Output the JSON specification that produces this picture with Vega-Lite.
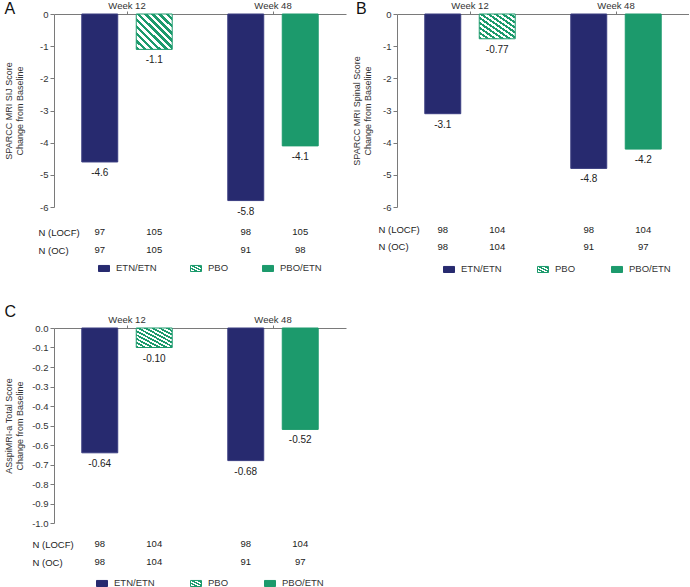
{
  "$schema": "https://vega.github.io/schema/vega-lite/v6.json",
  "padding": {"left": 4, "top": 0, "right": 0, "bottom": 0},
  "background": "white",
  "datasets": {
    "barsA": [
      {"week": "Week 12", "slot": "1", "group": "ETN/ETN", "value": -4.6, "label": "-4.6"},
      {"week": "Week 12", "slot": "2", "group": "PBO", "value": -1.1, "label": "-1.1"},
      {"week": "Week 48", "slot": "1", "group": "ETN/ETN", "value": -5.8, "label": "-5.8"},
      {"week": "Week 48", "slot": "2", "group": "PBO/ETN", "value": -4.1, "label": "-4.1"}
    ],
    "barsB": [
      {"week": "Week 12", "slot": "1", "group": "ETN/ETN", "value": -3.1, "label": "-3.1"},
      {"week": "Week 12", "slot": "2", "group": "PBO", "value": -0.77, "label": "-0.77"},
      {"week": "Week 48", "slot": "1", "group": "ETN/ETN", "value": -4.8, "label": "-4.8"},
      {"week": "Week 48", "slot": "2", "group": "PBO/ETN", "value": -4.2, "label": "-4.2"}
    ],
    "barsC": [
      {"week": "Week 12", "slot": "1", "group": "ETN/ETN", "value": -0.64, "label": "-0.64"},
      {"week": "Week 12", "slot": "2", "group": "PBO", "value": -0.10, "label": "-0.10"},
      {"week": "Week 48", "slot": "1", "group": "ETN/ETN", "value": -0.68, "label": "-0.68"},
      {"week": "Week 48", "slot": "2", "group": "PBO/ETN", "value": -0.52, "label": "-0.52"}
    ],
    "nA": [
      {"week": "Week 12", "slot": "1", "group": "ETN/ETN", "row": "N (LOCF)", "n": "97"},
      {"week": "Week 12", "slot": "2", "group": "PBO", "row": "N (LOCF)", "n": "105"},
      {"week": "Week 48", "slot": "1", "group": "ETN/ETN", "row": "N (LOCF)", "n": "98"},
      {"week": "Week 48", "slot": "2", "group": "PBO/ETN", "row": "N (LOCF)", "n": "105"},
      {"week": "Week 12", "slot": "1", "group": "ETN/ETN", "row": "N (OC)", "n": "97"},
      {"week": "Week 12", "slot": "2", "group": "PBO", "row": "N (OC)", "n": "105"},
      {"week": "Week 48", "slot": "1", "group": "ETN/ETN", "row": "N (OC)", "n": "91"},
      {"week": "Week 48", "slot": "2", "group": "PBO/ETN", "row": "N (OC)", "n": "98"}
    ],
    "nB": [
      {"week": "Week 12", "slot": "1", "group": "ETN/ETN", "row": "N (LOCF)", "n": "98"},
      {"week": "Week 12", "slot": "2", "group": "PBO", "row": "N (LOCF)", "n": "104"},
      {"week": "Week 48", "slot": "1", "group": "ETN/ETN", "row": "N (LOCF)", "n": "98"},
      {"week": "Week 48", "slot": "2", "group": "PBO/ETN", "row": "N (LOCF)", "n": "104"},
      {"week": "Week 12", "slot": "1", "group": "ETN/ETN", "row": "N (OC)", "n": "98"},
      {"week": "Week 12", "slot": "2", "group": "PBO", "row": "N (OC)", "n": "104"},
      {"week": "Week 48", "slot": "1", "group": "ETN/ETN", "row": "N (OC)", "n": "91"},
      {"week": "Week 48", "slot": "2", "group": "PBO/ETN", "row": "N (OC)", "n": "97"}
    ],
    "nC": [
      {"week": "Week 12", "slot": "1", "group": "ETN/ETN", "row": "N (LOCF)", "n": "98"},
      {"week": "Week 12", "slot": "2", "group": "PBO", "row": "N (LOCF)", "n": "104"},
      {"week": "Week 48", "slot": "1", "group": "ETN/ETN", "row": "N (LOCF)", "n": "98"},
      {"week": "Week 48", "slot": "2", "group": "PBO/ETN", "row": "N (LOCF)", "n": "104"},
      {"week": "Week 12", "slot": "1", "group": "ETN/ETN", "row": "N (OC)", "n": "98"},
      {"week": "Week 12", "slot": "2", "group": "PBO", "row": "N (OC)", "n": "104"},
      {"week": "Week 48", "slot": "1", "group": "ETN/ETN", "row": "N (OC)", "n": "91"},
      {"week": "Week 48", "slot": "2", "group": "PBO/ETN", "row": "N (OC)", "n": "97"}
    ]
  },
  "spacing": 29,
  "resolve": {"scale": {"fill": "independent", "stroke": "independent"}, "legend": {"fill": "independent", "stroke": "independent"}},
  "vconcat": [
    {
      "spacing": 6,
      "resolve": {"scale": {"fill": "independent", "stroke": "independent"}, "legend": {"fill": "independent", "stroke": "independent"}},
      "hconcat": [
        {
          "spacing": 6,
          "resolve": {"scale": {"fill": "independent", "stroke": "independent"}, "legend": {"fill": "independent", "stroke": "independent"}},
          "vconcat": [
            {
              "width": 292,
              "height": 193,
              "title": {"text": "A", "anchor": "start", "frame": "bounds", "fontSize": 16, "fontWeight": "normal", "font": "Liberation Sans", "color": "#111", "offset": -30, "baseline": "alphabetic"},
              "data": {"name": "barsA"},
              "encoding": {
                "x": {"field": "week", "type": "nominal", "scale": {"domain": ["Week 12", "Week 48"], "paddingInner": 0, "paddingOuter": 0}, "axis": {"orient": "top", "title": null, "labelAngle": 0, "tickSize": 3, "labelPadding": 1}},
                "xOffset": {"field": "slot", "type": "nominal", "scale": {"domain": ["1", "2"], "paddingInner": 0.34, "paddingOuter": 0.51}},
                "y": {"field": "value", "type": "quantitative", "scale": {"domain": [-6, 0], "nice": false}, "axis": {"values": [0, -1, -2, -3, -4, -5, -6], "title": ["SPARCC MRI SIJ Score", "Change from Baseline"], "titleX": -40.5, "tickSize": 4, "labelPadding": 2}}
              },
              "layer": [
                {
                  "mark": {"type": "bar", "strokeWidth": 1},
                  "encoding": {
                    "fill": {"condition": {"test": "datum.group === 'PBO'", "value": {"gradient": "linear", "x1": 0, "y1": 1, "x2": 1, "y2": 0, "stops": [{"offset": 0, "color": "#1c9a6c"}, {"offset": 0.05, "color": "#1c9a6c"}, {"offset": 0.05, "color": "#ffffff"}, {"offset": 0.1, "color": "#ffffff"}, {"offset": 0.1, "color": "#1c9a6c"}, {"offset": 0.15, "color": "#1c9a6c"}, {"offset": 0.15, "color": "#ffffff"}, {"offset": 0.2, "color": "#ffffff"}, {"offset": 0.2, "color": "#1c9a6c"}, {"offset": 0.25, "color": "#1c9a6c"}, {"offset": 0.25, "color": "#ffffff"}, {"offset": 0.3, "color": "#ffffff"}, {"offset": 0.3, "color": "#1c9a6c"}, {"offset": 0.35, "color": "#1c9a6c"}, {"offset": 0.35, "color": "#ffffff"}, {"offset": 0.4, "color": "#ffffff"}, {"offset": 0.4, "color": "#1c9a6c"}, {"offset": 0.45, "color": "#1c9a6c"}, {"offset": 0.45, "color": "#ffffff"}, {"offset": 0.5, "color": "#ffffff"}, {"offset": 0.5, "color": "#1c9a6c"}, {"offset": 0.55, "color": "#1c9a6c"}, {"offset": 0.55, "color": "#ffffff"}, {"offset": 0.6, "color": "#ffffff"}, {"offset": 0.6, "color": "#1c9a6c"}, {"offset": 0.65, "color": "#1c9a6c"}, {"offset": 0.65, "color": "#ffffff"}, {"offset": 0.7, "color": "#ffffff"}, {"offset": 0.7, "color": "#1c9a6c"}, {"offset": 0.75, "color": "#1c9a6c"}, {"offset": 0.75, "color": "#ffffff"}, {"offset": 0.8, "color": "#ffffff"}, {"offset": 0.8, "color": "#1c9a6c"}, {"offset": 0.85, "color": "#1c9a6c"}, {"offset": 0.85, "color": "#ffffff"}, {"offset": 0.9, "color": "#ffffff"}, {"offset": 0.9, "color": "#1c9a6c"}, {"offset": 0.95, "color": "#1c9a6c"}, {"offset": 0.95, "color": "#ffffff"}, {"offset": 1, "color": "#ffffff"}]}}, "field": "group", "type": "nominal", "scale": {"domain": ["ETN/ETN", "PBO", "PBO/ETN"], "range": ["#272a6f", "#ffffff", "#1c9a6c"]}, "legend": null},
                    "stroke": {"field": "group", "type": "nominal", "scale": {"domain": ["ETN/ETN", "PBO", "PBO/ETN"], "range": ["#3a3d80", "#1c9a6c", "#1c9a6c"]}, "legend": null}
                  }
                },
                {
                  "mark": {"type": "text", "baseline": "top", "dy": 6, "fontSize": 10, "font": "Liberation Sans", "color": "#222"},
                  "encoding": {"text": {"field": "label"}}
                }
              ]
            },
            {
              "width": 292,
              "height": 36,
              "data": {"name": "nA"},
              "encoding": {
                "x": {"field": "week", "type": "nominal", "scale": {"domain": ["Week 12", "Week 48"], "paddingInner": 0, "paddingOuter": 0}, "axis": null},
                "xOffset": {"field": "slot", "type": "nominal", "scale": {"domain": ["1", "2"], "paddingInner": 0.34, "paddingOuter": 0.51}}
              },
              "layer": [
                {
                  "mark": {"type": "text", "fontSize": 9.5, "font": "Liberation Sans", "color": "#222"},
                  "encoding": {
                    "y": {"field": "row", "type": "nominal", "sort": ["N (LOCF)", "N (OC)"], "scale": {"paddingInner": 0, "paddingOuter": 0}, "axis": {"title": null, "domain": false, "ticks": false, "tickSize": 0, "labelAlign": "left", "labelPadding": 16, "labelFontSize": 9.5, "labelColor": "#222"}},
                    "text": {"field": "n"}
                  }
                },
                {
                  "mark": {"type": "point", "size": 0, "filled": true, "opacity": 1, "strokeWidth": 1},
                  "encoding": {
                    "fill": {"field": "group", "type": "nominal", "scale": {"domain": ["ETN/ETN", "PBO", "PBO/ETN"], "range": ["#272a6f", {"expr": "{gradient: 'linear', x1: 0, y1: 1, x2: 1, y2: 0, stops: [{offset: 0, color: '#1c9a6c'}, {offset: 0.125, color: '#1c9a6c'}, {offset: 0.125, color: '#ffffff'}, {offset: 0.25, color: '#ffffff'}, {offset: 0.25, color: '#1c9a6c'}, {offset: 0.375, color: '#1c9a6c'}, {offset: 0.375, color: '#ffffff'}, {offset: 0.5, color: '#ffffff'}, {offset: 0.5, color: '#1c9a6c'}, {offset: 0.625, color: '#1c9a6c'}, {offset: 0.625, color: '#ffffff'}, {offset: 0.75, color: '#ffffff'}, {offset: 0.75, color: '#1c9a6c'}, {offset: 0.875, color: '#1c9a6c'}, {offset: 0.875, color: '#ffffff'}, {offset: 1, color: '#ffffff'}]}"}, "#1c9a6c"]}, "legend": {"orient": "none", "legendX": 44, "legendY": 39, "direction": "horizontal", "title": null, "symbolType": "M-1,-0.55H1V0.55H-1Z", "symbolSize": 121, "symbolStrokeWidth": 1, "symbolOpacity": 1, "labelFontSize": 9.5, "labelFont": "Liberation Sans", "labelColor": "#333", "labelOffset": 6, "columnPadding": 31, "padding": 0}},
                    "stroke": {"field": "group", "type": "nominal", "scale": {"domain": ["ETN/ETN", "PBO", "PBO/ETN"], "range": ["#272a6f", "#1c9a6c", "#1c9a6c"]}, "legend": null}
                  }
                }
              ]
            }
          ]
        },
        {
          "spacing": 9,
          "resolve": {"scale": {"fill": "independent", "stroke": "independent"}, "legend": {"fill": "independent", "stroke": "independent"}},
          "vconcat": [
            {
              "width": 292,
              "height": 193,
              "title": {"text": "B", "anchor": "start", "frame": "bounds", "fontSize": 16, "fontWeight": "normal", "font": "Liberation Sans", "color": "#111", "offset": -30, "dx": 4, "baseline": "alphabetic"},
              "data": {"name": "barsB"},
              "encoding": {
                "x": {"field": "week", "type": "nominal", "scale": {"domain": ["Week 12", "Week 48"], "paddingInner": 0, "paddingOuter": 0}, "axis": {"orient": "top", "title": null, "labelAngle": 0, "tickSize": 3, "labelPadding": 1}},
                "xOffset": {"field": "slot", "type": "nominal", "scale": {"domain": ["1", "2"], "paddingInner": 0.34, "paddingOuter": 0.51}},
                "y": {"field": "value", "type": "quantitative", "scale": {"domain": [-6, 0], "nice": false}, "axis": {"values": [0, -1, -2, -3, -4, -5, -6], "title": ["SPARCC MRI Spinal Score", "Change from Baseline"], "titleX": -36, "tickSize": 4, "labelPadding": 2}}
              },
              "layer": [
                {
                  "mark": {"type": "bar", "strokeWidth": 1},
                  "encoding": {
                    "fill": {"condition": {"test": "datum.group === 'PBO'", "value": {"gradient": "linear", "x1": 0, "y1": 1, "x2": 1, "y2": 0, "stops": [{"offset": 0, "color": "#1c9a6c"}, {"offset": 0.05, "color": "#1c9a6c"}, {"offset": 0.05, "color": "#ffffff"}, {"offset": 0.1, "color": "#ffffff"}, {"offset": 0.1, "color": "#1c9a6c"}, {"offset": 0.15, "color": "#1c9a6c"}, {"offset": 0.15, "color": "#ffffff"}, {"offset": 0.2, "color": "#ffffff"}, {"offset": 0.2, "color": "#1c9a6c"}, {"offset": 0.25, "color": "#1c9a6c"}, {"offset": 0.25, "color": "#ffffff"}, {"offset": 0.3, "color": "#ffffff"}, {"offset": 0.3, "color": "#1c9a6c"}, {"offset": 0.35, "color": "#1c9a6c"}, {"offset": 0.35, "color": "#ffffff"}, {"offset": 0.4, "color": "#ffffff"}, {"offset": 0.4, "color": "#1c9a6c"}, {"offset": 0.45, "color": "#1c9a6c"}, {"offset": 0.45, "color": "#ffffff"}, {"offset": 0.5, "color": "#ffffff"}, {"offset": 0.5, "color": "#1c9a6c"}, {"offset": 0.55, "color": "#1c9a6c"}, {"offset": 0.55, "color": "#ffffff"}, {"offset": 0.6, "color": "#ffffff"}, {"offset": 0.6, "color": "#1c9a6c"}, {"offset": 0.65, "color": "#1c9a6c"}, {"offset": 0.65, "color": "#ffffff"}, {"offset": 0.7, "color": "#ffffff"}, {"offset": 0.7, "color": "#1c9a6c"}, {"offset": 0.75, "color": "#1c9a6c"}, {"offset": 0.75, "color": "#ffffff"}, {"offset": 0.8, "color": "#ffffff"}, {"offset": 0.8, "color": "#1c9a6c"}, {"offset": 0.85, "color": "#1c9a6c"}, {"offset": 0.85, "color": "#ffffff"}, {"offset": 0.9, "color": "#ffffff"}, {"offset": 0.9, "color": "#1c9a6c"}, {"offset": 0.95, "color": "#1c9a6c"}, {"offset": 0.95, "color": "#ffffff"}, {"offset": 1, "color": "#ffffff"}]}}, "field": "group", "type": "nominal", "scale": {"domain": ["ETN/ETN", "PBO", "PBO/ETN"], "range": ["#272a6f", "#ffffff", "#1c9a6c"]}, "legend": null},
                    "stroke": {"field": "group", "type": "nominal", "scale": {"domain": ["ETN/ETN", "PBO", "PBO/ETN"], "range": ["#3a3d80", "#1c9a6c", "#1c9a6c"]}, "legend": null}
                  }
                },
                {
                  "mark": {"type": "text", "baseline": "top", "dy": 6, "fontSize": 10, "font": "Liberation Sans", "color": "#222"},
                  "encoding": {"text": {"field": "label"}}
                }
              ]
            },
            {
              "width": 292,
              "height": 34,
              "data": {"name": "nB"},
              "encoding": {
                "x": {"field": "week", "type": "nominal", "scale": {"domain": ["Week 12", "Week 48"], "paddingInner": 0, "paddingOuter": 0}, "axis": null},
                "xOffset": {"field": "slot", "type": "nominal", "scale": {"domain": ["1", "2"], "paddingInner": 0.34, "paddingOuter": 0.51}}
              },
              "layer": [
                {
                  "mark": {"type": "text", "fontSize": 9.5, "font": "Liberation Sans", "color": "#222"},
                  "encoding": {
                    "y": {"field": "row", "type": "nominal", "sort": ["N (LOCF)", "N (OC)"], "scale": {"paddingInner": 0, "paddingOuter": 0}, "axis": {"title": null, "domain": false, "ticks": false, "tickSize": 0, "labelAlign": "left", "labelPadding": 19, "labelFontSize": 9.5, "labelColor": "#222"}},
                    "text": {"field": "n"}
                  }
                },
                {
                  "mark": {"type": "point", "size": 0, "filled": true, "opacity": 1, "strokeWidth": 1},
                  "encoding": {
                    "fill": {"field": "group", "type": "nominal", "scale": {"domain": ["ETN/ETN", "PBO", "PBO/ETN"], "range": ["#272a6f", {"expr": "{gradient: 'linear', x1: 0, y1: 1, x2: 1, y2: 0, stops: [{offset: 0, color: '#1c9a6c'}, {offset: 0.125, color: '#1c9a6c'}, {offset: 0.125, color: '#ffffff'}, {offset: 0.25, color: '#ffffff'}, {offset: 0.25, color: '#1c9a6c'}, {offset: 0.375, color: '#1c9a6c'}, {offset: 0.375, color: '#ffffff'}, {offset: 0.5, color: '#ffffff'}, {offset: 0.5, color: '#1c9a6c'}, {offset: 0.625, color: '#1c9a6c'}, {offset: 0.625, color: '#ffffff'}, {offset: 0.75, color: '#ffffff'}, {offset: 0.75, color: '#1c9a6c'}, {offset: 0.875, color: '#1c9a6c'}, {offset: 0.875, color: '#ffffff'}, {offset: 1, color: '#ffffff'}]}"}, "#1c9a6c"]}, "legend": {"orient": "none", "legendX": 46, "legendY": 42, "direction": "horizontal", "title": null, "symbolType": "M-1,-0.55H1V0.55H-1Z", "symbolSize": 121, "symbolStrokeWidth": 1, "symbolOpacity": 1, "labelFontSize": 9.5, "labelFont": "Liberation Sans", "labelColor": "#333", "labelOffset": 6, "columnPadding": 33, "padding": 0}},
                    "stroke": {"field": "group", "type": "nominal", "scale": {"domain": ["ETN/ETN", "PBO", "PBO/ETN"], "range": ["#272a6f", "#1c9a6c", "#1c9a6c"]}, "legend": null}
                  }
                }
              ]
            }
          ]
        }
      ]
    },
    {
      "spacing": 7,
      "resolve": {"scale": {"fill": "independent", "stroke": "independent"}, "legend": {"fill": "independent", "stroke": "independent"}},
      "vconcat": [
        {
          "width": 292,
          "height": 195,
          "title": {"text": "C", "anchor": "start", "frame": "bounds", "fontSize": 16, "fontWeight": "normal", "font": "Liberation Sans", "color": "#111", "offset": -19, "baseline": "alphabetic"},
          "data": {"name": "barsC"},
          "encoding": {
            "x": {"field": "week", "type": "nominal", "scale": {"domain": ["Week 12", "Week 48"], "paddingInner": 0, "paddingOuter": 0}, "axis": {"orient": "top", "title": null, "labelAngle": 0, "tickSize": 3, "labelPadding": 1}},
            "xOffset": {"field": "slot", "type": "nominal", "scale": {"domain": ["1", "2"], "paddingInner": 0.34, "paddingOuter": 0.51}},
            "y": {"field": "value", "type": "quantitative", "scale": {"domain": [-1, 0], "nice": false}, "axis": {"values": [0, -0.1, -0.2, -0.3, -0.4, -0.5, -0.6, -0.7, -0.8, -0.9, -1.0], "format": ".1f", "title": ["ASspiMRI-a Total Score", "Change from Baseline"], "titleX": -40.5, "tickSize": 4, "labelPadding": 2}}
          },
          "layer": [
            {
              "mark": {"type": "bar", "strokeWidth": 1},
              "encoding": {
                "fill": {"condition": {"test": "datum.group === 'PBO'", "value": {"gradient": "linear", "x1": 0, "y1": 1, "x2": 1, "y2": 0, "stops": [{"offset": 0, "color": "#1c9a6c"}, {"offset": 0.05, "color": "#1c9a6c"}, {"offset": 0.05, "color": "#ffffff"}, {"offset": 0.1, "color": "#ffffff"}, {"offset": 0.1, "color": "#1c9a6c"}, {"offset": 0.15, "color": "#1c9a6c"}, {"offset": 0.15, "color": "#ffffff"}, {"offset": 0.2, "color": "#ffffff"}, {"offset": 0.2, "color": "#1c9a6c"}, {"offset": 0.25, "color": "#1c9a6c"}, {"offset": 0.25, "color": "#ffffff"}, {"offset": 0.3, "color": "#ffffff"}, {"offset": 0.3, "color": "#1c9a6c"}, {"offset": 0.35, "color": "#1c9a6c"}, {"offset": 0.35, "color": "#ffffff"}, {"offset": 0.4, "color": "#ffffff"}, {"offset": 0.4, "color": "#1c9a6c"}, {"offset": 0.45, "color": "#1c9a6c"}, {"offset": 0.45, "color": "#ffffff"}, {"offset": 0.5, "color": "#ffffff"}, {"offset": 0.5, "color": "#1c9a6c"}, {"offset": 0.55, "color": "#1c9a6c"}, {"offset": 0.55, "color": "#ffffff"}, {"offset": 0.6, "color": "#ffffff"}, {"offset": 0.6, "color": "#1c9a6c"}, {"offset": 0.65, "color": "#1c9a6c"}, {"offset": 0.65, "color": "#ffffff"}, {"offset": 0.7, "color": "#ffffff"}, {"offset": 0.7, "color": "#1c9a6c"}, {"offset": 0.75, "color": "#1c9a6c"}, {"offset": 0.75, "color": "#ffffff"}, {"offset": 0.8, "color": "#ffffff"}, {"offset": 0.8, "color": "#1c9a6c"}, {"offset": 0.85, "color": "#1c9a6c"}, {"offset": 0.85, "color": "#ffffff"}, {"offset": 0.9, "color": "#ffffff"}, {"offset": 0.9, "color": "#1c9a6c"}, {"offset": 0.95, "color": "#1c9a6c"}, {"offset": 0.95, "color": "#ffffff"}, {"offset": 1, "color": "#ffffff"}]}}, "field": "group", "type": "nominal", "scale": {"domain": ["ETN/ETN", "PBO", "PBO/ETN"], "range": ["#272a6f", "#ffffff", "#1c9a6c"]}, "legend": null},
                "stroke": {"field": "group", "type": "nominal", "scale": {"domain": ["ETN/ETN", "PBO", "PBO/ETN"], "range": ["#3a3d80", "#1c9a6c", "#1c9a6c"]}, "legend": null}
              }
            },
            {
              "mark": {"type": "text", "baseline": "top", "dy": 6, "fontSize": 10, "font": "Liberation Sans", "color": "#222"},
              "encoding": {"text": {"field": "label"}}
            }
          ]
        },
        {
          "width": 292,
          "height": 36,
          "data": {"name": "nC"},
          "encoding": {
            "x": {"field": "week", "type": "nominal", "scale": {"domain": ["Week 12", "Week 48"], "paddingInner": 0, "paddingOuter": 0}, "axis": null},
            "xOffset": {"field": "slot", "type": "nominal", "scale": {"domain": ["1", "2"], "paddingInner": 0.34, "paddingOuter": 0.51}}
          },
          "layer": [
            {
              "mark": {"type": "text", "fontSize": 9.5, "font": "Liberation Sans", "color": "#222"},
              "encoding": {
                "y": {"field": "row", "type": "nominal", "sort": ["N (LOCF)", "N (OC)"], "scale": {"paddingInner": 0, "paddingOuter": 0}, "axis": {"title": null, "domain": false, "ticks": false, "tickSize": 0, "labelAlign": "left", "labelPadding": 22, "labelFontSize": 9.5, "labelColor": "#222"}},
                "text": {"field": "n"}
              }
            },
            {
              "mark": {"type": "point", "size": 0, "filled": true, "opacity": 1, "strokeWidth": 1},
              "encoding": {
                "fill": {"field": "group", "type": "nominal", "scale": {"domain": ["ETN/ETN", "PBO", "PBO/ETN"], "range": ["#272a6f", {"expr": "{gradient: 'linear', x1: 0, y1: 1, x2: 1, y2: 0, stops: [{offset: 0, color: '#1c9a6c'}, {offset: 0.125, color: '#1c9a6c'}, {offset: 0.125, color: '#ffffff'}, {offset: 0.25, color: '#ffffff'}, {offset: 0.25, color: '#1c9a6c'}, {offset: 0.375, color: '#1c9a6c'}, {offset: 0.375, color: '#ffffff'}, {offset: 0.5, color: '#ffffff'}, {offset: 0.5, color: '#1c9a6c'}, {offset: 0.625, color: '#1c9a6c'}, {offset: 0.625, color: '#ffffff'}, {offset: 0.75, color: '#ffffff'}, {offset: 0.75, color: '#1c9a6c'}, {offset: 0.875, color: '#1c9a6c'}, {offset: 0.875, color: '#ffffff'}, {offset: 1, color: '#ffffff'}]}"}, "#1c9a6c"]}, "legend": {"orient": "none", "legendX": 42, "legendY": 42, "direction": "horizontal", "title": null, "symbolType": "M-1,-0.55H1V0.55H-1Z", "symbolSize": 121, "symbolStrokeWidth": 1, "symbolOpacity": 1, "labelFontSize": 9.5, "labelFont": "Liberation Sans", "labelColor": "#333", "labelOffset": 6, "columnPadding": 33, "padding": 0}},
                "stroke": {"field": "group", "type": "nominal", "scale": {"domain": ["ETN/ETN", "PBO", "PBO/ETN"], "range": ["#272a6f", "#1c9a6c", "#1c9a6c"]}, "legend": null}
              }
            }
          ]
        }
      ]
    }
  ],
  "config": {
    "view": {"stroke": null},
    "font": "Liberation Sans",
    "locale": {"number": {"decimal": ".", "thousands": ",", "grouping": [3], "currency": ["$", ""], "minus": "-"}},
    "axis": {"domainColor": "#7a7a7a", "tickColor": "#7a7a7a", "labelColor": "#333", "titleColor": "#333", "labelFont": "Liberation Sans", "titleFont": "Liberation Sans", "labelFontSize": 9.5, "titleFontSize": 9, "titleFontWeight": "normal", "titleLineHeight": 11, "grid": false}
  }
}
